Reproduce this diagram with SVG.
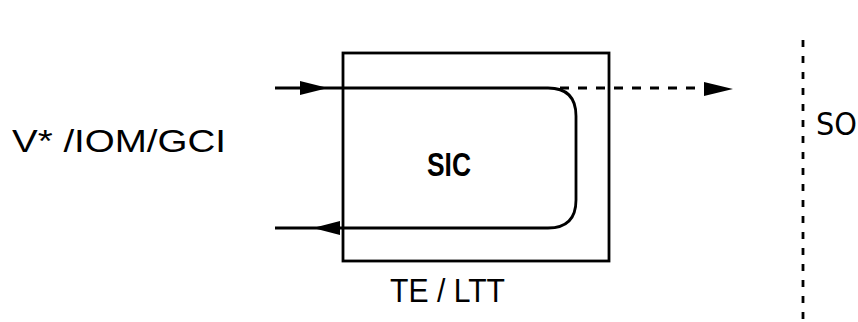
<svg xmlns="http://www.w3.org/2000/svg" width="858" height="322" viewBox="0 0 858 322">
<style>
.ln{fill:none;stroke:#000;stroke-width:2.8}
.txt{font-family:"Liberation Sans","DejaVu Sans",Arial,sans-serif;fill:#000}
.ah{fill:#000}
</style>
<rect width="858" height="322" fill="#fff"/>
<g id="box-te-ltt">
<rect class="ln" x="343" y="53" width="266" height="208"/>
<text class="txt" x="390" y="302" font-size="33" textLength="115" lengthAdjust="spacingAndGlyphs">TE / LTT</text>
</g>
<g id="node-sic">
<text class="txt" x="427" y="176" font-size="34" font-weight="bold" textLength="44" lengthAdjust="spacingAndGlyphs">SIC</text>
</g>
<g id="label-left">
<text class="txt" x="12" y="152" font-size="32" textLength="214" lengthAdjust="spacingAndGlyphs">V* /IOM/GCI</text>
</g>
<g id="label-so">
<text x="816" y="135" font-size="32" font-family="'Liberation Sans Narrow','DejaVu Sans Condensed',sans-serif" font-stretch="condensed" fill="#000">SO</text>
</g>
<g id="connectors">
<path class="ln" d="M275 88 H548 Q576 88 576 116 V200 Q576 228 548 228 H275"/>
<path class="ln" d="M560 88 H712" stroke-dasharray="9 9"/>
<path class="ah" d="M300 81 L328 88 L300 95 Z"/>
<path class="ah" d="M340 221 L313 228 L340 235 Z"/>
<path class="ah" d="M704 82 L733 89 L704 96 Z"/>
<path class="ln" d="M803 40 V322" stroke-dasharray="7 9"/>
</g>
</svg>
